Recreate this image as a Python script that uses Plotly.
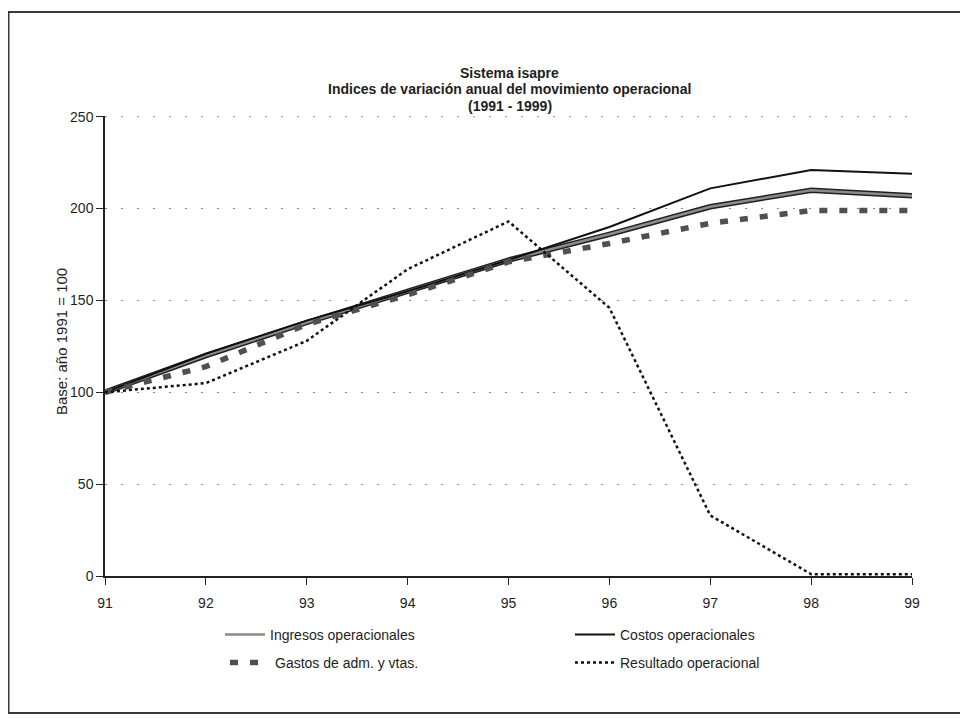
import plotly.graph_objects as go

years = ["91", "92", "93", "94", "95", "96", "97", "98", "99"]
ingresos = [100, 120, 138, 155, 172, 186, 201, 210, 207]
costos = [100, 121, 139, 155, 172, 190, 211, 221, 219]
gastos = [100, 114, 137, 153, 171, 181, 192, 199, 199]
resultado = [100, 105, 128, 167, 193, 146, 33, 1, 1]
y_ticks = [0, 50, 100, 150, 200, 250]
title_lines = ["Sistema isapre",
               "Indices de variación anual del movimiento operacional",
               "(1991 - 1999)"]
y_title = "Base: año 1991 = 100"

FONT = "Liberation Sans, Arial, sans-serif"
TXT = "#1e1e1e"
xs = list(range(len(years)))

# geometry (figure pixels; page has 8px body margin)
W, H = 960, 707
L, R, T, B = 97, 56, 108, 139
PW, PH = W - L - R, H - T - B


def px(xf):
    return (xf - L) / PW


def py(yf):
    return (T + PH - yf) / PH


fig = go.Figure()
fig.add_trace(go.Scatter(x=xs, y=ingresos, mode="lines", showlegend=False,
                         line=dict(color="#202020", width=5.5), hoverinfo="skip"))
fig.add_trace(go.Scatter(x=xs, y=ingresos, mode="lines", name="Ingresos operacionales",
                         legend="legend", line=dict(color="#8c8c84", width=2.5)))
fig.add_trace(go.Scatter(x=xs, y=costos, mode="lines", name="Costos operacionales",
                         legend="legend2", line=dict(color="#111111", width=2)))
fig.add_trace(go.Scatter(x=xs, y=gastos, mode="lines", name="Gastos de adm. y vtas.",
                         legend="legend3", line=dict(color="#505050", width=5.5, dash="8px,12px")))
fig.add_trace(go.Scatter(x=xs, y=resultado, mode="lines", name="Resultado operacional",
                         legend="legend4", line=dict(color="#111111", width=2.5, dash="dot")))

# outer frame
fig.add_shape(type="rect", xref="paper", yref="paper",
              x0=px(0.5), x1=px(956), y0=py(705), y1=py(4),
              line=dict(color="#3a3a3a", width=2), layer="below")
# top gridline (at the range edge, which plotly does not draw)
fig.add_shape(type="line", xref="paper", yref="y", x0=0, x1=1,
              y0=y_ticks[-1], y1=y_ticks[-1],
              line=dict(color="#8a8a8a", width=1.2, dash="2px,14px"), layer="below")

annotations = []
for line_text, yc in zip(title_lines, [65, 81, 98]):
    annotations.append(dict(text="<b>" + line_text + "</b>", xref="paper", yref="paper",
                            x=px(502), y=py(yc), xanchor="center", yanchor="middle",
                            showarrow=False, font=dict(family=FONT, size=14, color=TXT)))
annotations.append(dict(text=y_title, xref="paper", yref="paper", textangle=-90,
                        x=px(53), y=py(334), xanchor="center", yanchor="middle",
                        showarrow=False, font=dict(family=FONT, size=15, color=TXT)))

leg_common = dict(orientation="h", xanchor="left", yanchor="middle",
                  font=dict(family=FONT, size=14, color=TXT), itemwidth=40,
                  bgcolor="rgba(0,0,0,0)", borderwidth=0)

fig.update_layout(
    width=W, height=H,
    margin=dict(l=L, r=R, t=T, b=B),
    paper_bgcolor="white", plot_bgcolor="white",
    font=dict(family=FONT, size=14, color=TXT),
    annotations=annotations,
    xaxis=dict(
        tickmode="array", tickvals=xs, ticktext=years, range=[0, 8],
        showgrid=False, zeroline=False, showline=True, linecolor="#222222", linewidth=1.5,
        ticks="outside", ticklen=7, tickcolor="#222222", ticklabelstandoff=6,
        tickfont=dict(family=FONT, size=14, color=TXT),
    ),
    yaxis=dict(
        tickvals=y_ticks, range=[0, 250.4],
        showgrid=True, gridcolor="#8a8a8a", griddash="2px,14px", gridwidth=1.2,
        zeroline=False, showline=True, linecolor="#222222", linewidth=1.5,
        ticks="outside", ticklen=7, tickcolor="#222222",
        tickfont=dict(family=FONT, size=14, color=TXT),
    ),
    legend=dict(x=px(212), y=py(627), **leg_common),
    legend2=dict(x=px(562), y=py(627), **leg_common),
    legend3=dict(x=px(217), y=py(655), **leg_common),
    legend4=dict(x=px(562), y=py(655), **leg_common),
)

fig.write_html("out.html")
